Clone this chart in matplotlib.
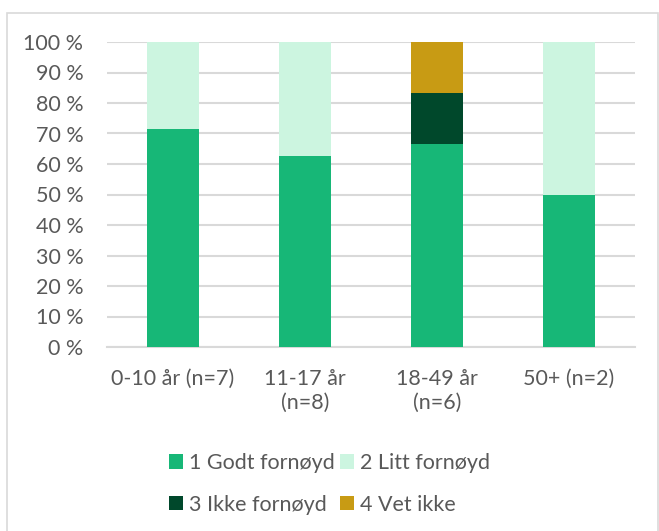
import matplotlib
matplotlib.use("Agg")
import matplotlib.pyplot as plt
from matplotlib.patches import Rectangle
import numpy as np

categories = ["0-10 år (n=7)", "11-17 år\n(n=8)", "18-49 år\n(n=6)", "50+ (n=2)"]
series_names = ["1 Godt fornøyd", "2 Litt fornøyd", "3 Ikke fornøyd", "4 Vet ikke"]
godt = [71.4, 62.5, 66.7, 50.0]
litt = [28.6, 37.5, 0.0, 50.0]
ikke = [0.0, 0.0, 16.7, 0.0]
vet_ikke = [0.0, 0.0, 16.6, 0.0]
colors = ["#17B777", "#CCF5E0", "#00482B", "#C89B14"]

plt.rcParams["font.family"] = ["Lato", "DejaVu Sans"]
text_color = "#595959"
fs = 15.5

fig = plt.figure(figsize=(6.59, 5.31), dpi=100)
fig.patch.set_facecolor("white")

# chart border
fig.add_artist(Rectangle((7 / 659, -0.01), 0.999 - 7 / 659, 1 - 13 / 531 + 0.01,
                         transform=fig.transFigure, fill=False,
                         edgecolor="#D9D9D9", linewidth=1.2))

ax = fig.add_axes([107 / 659, 1 - 347 / 531, 528 / 659, 305 / 531])
x = np.arange(len(categories))
bottom = np.zeros(len(categories))
bars = []
for vals, name, c in zip([godt, litt, ikke, vet_ikke], series_names, colors):
    b = ax.bar(x, vals, width=0.39, bottom=bottom, color=c, label=name, zorder=3)
    bars.append(b)
    bottom += np.array(vals)

ax.set_xlim(-0.5, len(categories) - 0.5)
ax.set_ylim(0, 100)
ax.set_yticks(np.arange(0, 101, 10))
ax.set_yticklabels([f"{v} %" for v in range(0, 101, 10)])
ax.set_xticks(x)
ax.set_xticklabels(categories, linespacing=1.2)
ax.yaxis.grid(True, color="#D9D9D9", linewidth=1.5, zorder=0)
for s in ["top", "right", "left"]:
    ax.spines[s].set_visible(False)
ax.spines["bottom"].set_color("#D9D9D9")
ax.spines["bottom"].set_linewidth(1.5)
ax.tick_params(axis="both", length=0, labelsize=fs, colors=text_color)
ax.tick_params(axis="y", pad=17)
ax.tick_params(axis="x", pad=16)

# row-major legend order (matplotlib fills columns first)
order = [0, 2, 1, 3]
leg = fig.legend([bars[i] for i in order], [series_names[i] for i in order],
                 ncol=2, loc="center",
                 bbox_to_anchor=(0.5, 1 - 484 / 531), frameon=False,
                 fontsize=fs, handlelength=0.65, handleheight=0.65,
                 handletextpad=0.3, columnspacing=0.2, labelspacing=1.0,
                 labelcolor=text_color)

fig.savefig("out.png", dpi=100, facecolor="white")
